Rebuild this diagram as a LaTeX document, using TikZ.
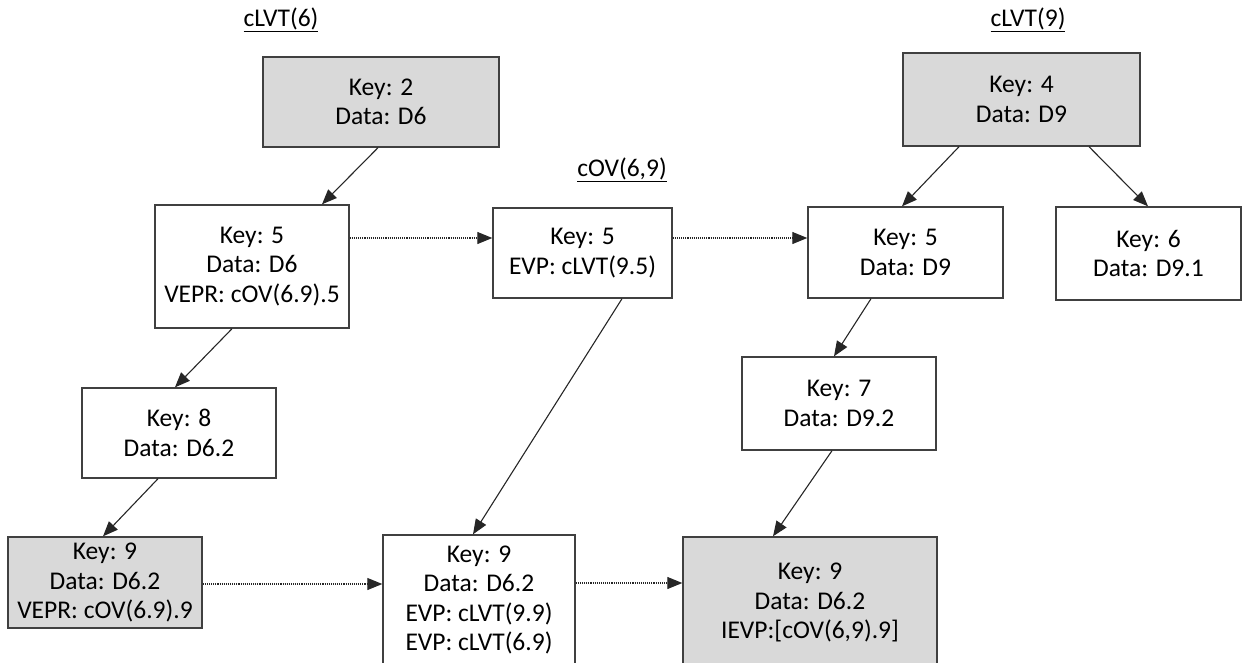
\documentclass[tikz,border=0pt]{standalone}
\usepackage{fontspec}
\setmainfont{Carlito}
\usetikzlibrary{arrows.meta}
\definecolor{boxgray}{HTML}{D9D9D9}
\definecolor{edge}{HTML}{404040}
\tikzset{
  box/.style={draw=edge, line width=1.4pt, fill=white, align=center, inner sep=0pt,
    font=\fontsize{25.5}{29.5}\selectfont},
  graybox/.style={box, fill=boxgray},
  link/.style={draw=black!85, line width=1.1pt, -{Triangle[length=15pt,width=12pt]}},
  ptr/.style={link, densely dotted},
  title/.style={font=\fontsize{25.5}{29}\selectfont, inner sep=0pt}
}
\begin{document}
\begin{tikzpicture}[x=1pt,y=-1pt]
\useasboundingbox (0,0) rectangle (1245,662);
\clip (0,0) rectangle (1245,662);
% titles
\node[title] (t1) at (281,20) {\underline{cLVT(6)}};
\node[title] (t2) at (622,170) {\underline{cOV(6,9)}};
\node[title] (t3) at (1028,20) {\underline{cLVT(9)}};
% boxes
\node[graybox, minimum width=236pt, minimum height=90pt] (A) at (381,102) {Key: 2\\Data: D6};
\node[box, minimum width=194pt, minimum height=123pt] (B) at (252,266.5) {Key: 5\\Data: D6\\VEPR: cOV(6.9).5};
\node[box, minimum width=194pt, minimum height=90pt] (C) at (179,433) {Key: 8\\Data: D6.2};
\node[graybox, minimum width=194pt, minimum height=91pt] (D) at (105,582.5) {Key: 9\\Data: D6.2\\VEPR: cOV(6.9).9};
\node[box, minimum width=179pt, minimum height=90pt] (E) at (582.5,253) {Key: 5\\EVP: cLVT(9.5)};
\node[box, minimum width=192pt, minimum height=130pt] (F) at (479,600) {Key: 9\\Data: D6.2\\EVP: cLVT(9.9)\\EVP: cLVT(6.9)};
\node[graybox, minimum width=254pt, minimum height=131pt] (G) at (810,602.5) {Key: 9\\Data: D6.2\\IEVP:[cOV(6,9).9]};
\node[graybox, minimum width=237pt, minimum height=93pt] (H) at (1021.5,99.5) {Key: 4\\Data: D9};
\node[box, minimum width=195pt, minimum height=91pt] (I) at (905.5,252.5) {Key: 5\\Data: D9};
\node[box, minimum width=185pt, minimum height=93pt] (J) at (1148.5,253.5) {Key: 6\\Data: D9.1};
\node[box, minimum width=194pt, minimum height=93pt] (K) at (839,403.5) {Key: 7\\Data: D9.2};
% tree links
\draw[link] ([xshift=-3pt]A.south) -- ([xshift=70pt]B.north);
\draw[link] ([xshift=-20pt]B.south) -- ([xshift=-4pt]C.north);
\draw[link] ([xshift=-21pt]C.south) -- ([xshift=-2pt]D.north);
\draw[link] ([xshift=39.5pt]E.south) -- ([xshift=-6pt]F.north);
\draw[link] ([xshift=-62.5pt]H.south) -- ([xshift=-3.5pt]I.north);
\draw[link] ([xshift=67.5pt]H.south) -- ([xshift=-0.5pt]J.north);
\draw[link] ([xshift=-34.5pt]I.south) -- ([xshift=-5pt]K.north);
\draw[link] ([xshift=-7pt]K.south) -- ([xshift=-37pt]G.north);
% pointers
\draw[ptr] ([yshift=28.5pt]B.east) -- ([yshift=15pt]E.west);
\draw[ptr] ([yshift=15pt]E.east) -- ([yshift=14.5pt]I.west);
\draw[ptr] ([yshift=-1.5pt]D.east) -- ([yshift=16pt]F.west);
\draw[ptr] ([yshift=17pt]F.east) -- ([yshift=19.5pt]G.west);
\end{tikzpicture}
\end{document}
